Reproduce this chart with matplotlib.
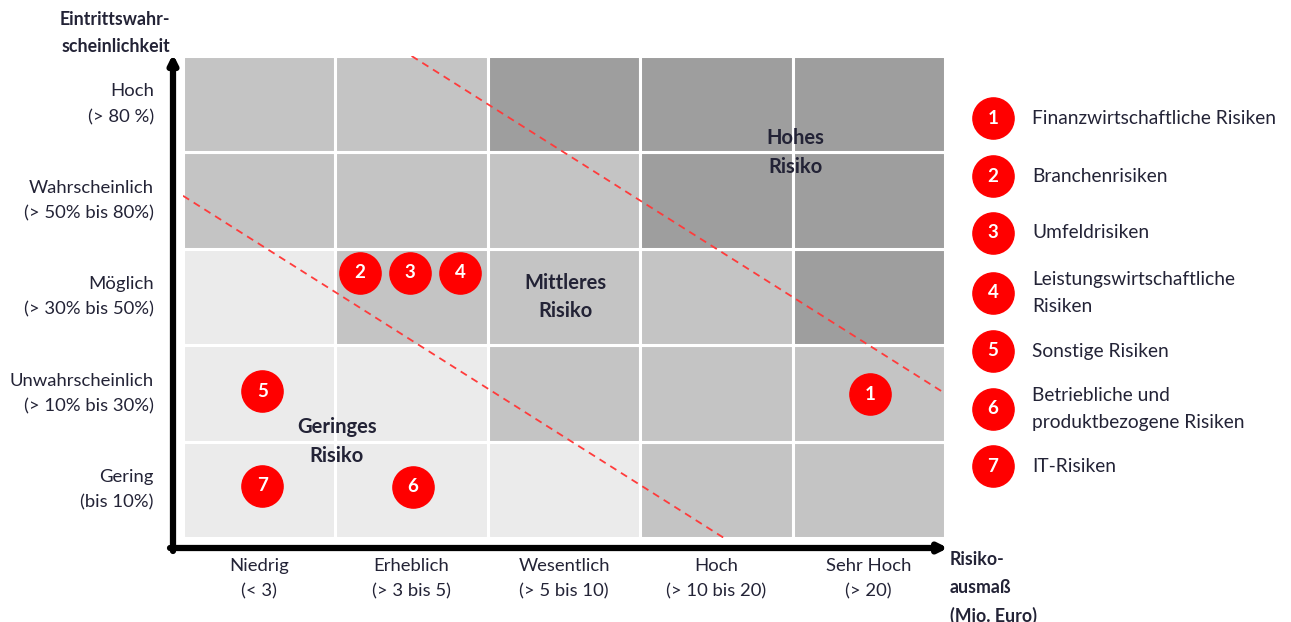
import matplotlib.pyplot as plt
from matplotlib.patches import Rectangle

# Axis categories
impact_labels = ["Niedrig\n(< 3)", "Erheblich\n(> 3 bis 5)", "Wesentlich\n(> 5 bis 10)",
                 "Hoch\n(> 10 bis 20)", "Sehr Hoch\n(> 20)"]
likelihood_labels = ["Gering\n(bis 10%)", "Unwahrscheinlich\n(> 10% bis 30%)",
                     "Möglich\n(> 30% bis 50%)", "Wahrscheinlich\n(> 50% bis 80%)",
                     "Hoch\n(> 80 %)"]

# Risk level per cell: rows from bottom (Gering) to top (Hoch), columns left to right
# 0 = gering, 1 = mittel, 2 = hoch
risk_levels = [
    [0, 0, 0, 1, 1],
    [0, 0, 1, 1, 1],
    [0, 1, 1, 1, 2],
    [1, 1, 1, 2, 2],
    [1, 1, 2, 2, 2],
]
level_colors = ["#ebebeb", "#c4c4c4", "#9e9e9e"]

# Risk positions (impact, likelihood) in grid units
risk_ids = ["1", "2", "3", "4", "5", "6", "7"]
risk_x = [4.51, 1.16, 1.49, 1.82, 0.52, 1.51, 0.52]
risk_y = [1.49, 2.75, 2.75, 2.75, 1.52, 0.53, 0.54]
risk_names = ["Finanzwirtschaftliche Risiken", "Branchenrisiken", "Umfeldrisiken",
              "Leistungswirtschaftliche\nRisiken", "Sonstige Risiken",
              "Betriebliche und\nproduktbezogene Risiken", "IT-Risiken"]

# Zone boundaries: x + y = const
zone_bounds = [3.55, 6.5]
zone_labels = ["Geringes\nRisiko", "Mittleres\nRisiko", "Hohes\nRisiko"]
zone_label_pos = [(1.01, 1.0), (2.51, 2.5), (4.02, 4.0)]

plt.rcParams['font.family'] = ['Lato', 'DejaVu Sans']
txt_color = "#232336"
fs = 13.3
ls = 1.72

W, H = 1291, 622
fig = plt.figure(figsize=(W / 100, H / 100), dpi=100)

# Overlay in pixel coordinates for labels and legend
ov = fig.add_axes([0, 0, 1, 1])
ov.set_xlim(0, W)
ov.set_ylim(H, 0)
ov.axis("off")

left_px, right_px, top_px, bottom_px = 183, 945, 56, 538
ax = fig.add_axes([left_px / W, 1 - bottom_px / H,
                   (right_px - left_px) / W, (bottom_px - top_px) / H])
ax.set_xlim(0, 5)
ax.set_ylim(0, 5)
ax.axis("off")

# Cells
for r in range(5):
    for c in range(5):
        ax.add_patch(Rectangle((c, r), 1, 1, facecolor=level_colors[risk_levels[r][c]],
                               edgecolor="white", linewidth=2.2, zorder=1))

# Zone boundary lines
for s in zone_bounds:
    x0 = max(0, s - 5)
    x1 = min(5, s)
    ax.plot([x0, x1], [s - x0, s - x1], color="#ff3b3b", lw=1.3,
            dashes=(4, 3), zorder=2)

# Zone labels
for lbl, (zx, zy) in zip(zone_labels, zone_label_pos):
    ax.text(zx, zy, lbl, ha="center", va="center", fontsize=14.5, fontweight="bold",
            color=txt_color, linespacing=1.52, zorder=3)

# Risk markers
ax.scatter(risk_x, risk_y, s=880, color="#ff0000", zorder=4, clip_on=False)
for rid, x, y in zip(risk_ids, risk_x, risk_y):
    ax.text(x, y, rid, ha="center", va="center", color="white", fontsize=13.5,
            fontweight="bold", zorder=5)

# Axis arrows
px_x = 1 / 152.4
px_y = 1 / 96.4
ax_x = -10 * px_x
ax_y = -10 * px_y
ax.annotate("", xy=(ax_x, 5.02), xytext=(ax_x, ax_y - 3 * px_y),
            arrowprops=dict(arrowstyle="-|>,head_length=0.5,head_width=0.25",
                            lw=4.5, color="black", shrinkA=0, shrinkB=0),
            annotation_clip=False)
ax.annotate("", xy=(5.02, ax_y), xytext=(ax_x - 3 * px_x, ax_y),
            arrowprops=dict(arrowstyle="-|>,head_length=0.5,head_width=0.25",
                            lw=4.5, color="black", shrinkA=0, shrinkB=0),
            annotation_clip=False)

# Category labels
for i, lbl in enumerate(impact_labels):
    ax.text(i + 0.5, -40.5 * px_y, lbl, ha="center", va="center", fontsize=fs,
            color=txt_color, linespacing=ls, clip_on=False)
for i, lbl in enumerate(likelihood_labels):
    ax.text(-29 * px_x, i + 0.5, lbl, ha="right", va="center", fontsize=fs,
            color=txt_color, linespacing=ls, clip_on=False)

# Axis titles
ov.text(170, 33, "Eintrittswahr-\nscheinlichkeit", ha="right", va="center",
        fontsize=12.8, fontweight="bold", color=txt_color, linespacing=ls)
ov.text(950, 588, "Risiko-\nausmaß\n(Mio. Euro)", ha="left", va="center",
        fontsize=12.8, fontweight="bold", color=txt_color, linespacing=ls)

# Legend
leg_y = [118, 176, 233, 293, 351, 409, 466]
ov.scatter([993] * len(leg_y), leg_y, s=880, color="#ff0000", zorder=4)
for rid, name, py in zip(risk_ids, risk_names, leg_y):
    ov.text(993, py, rid, ha="center", va="center", color="white", fontsize=13.5,
            fontweight="bold", zorder=5)
    ov.text(1032, py, name, ha="left", va="center", fontsize=13.8,
            color=txt_color, linespacing=ls)

fig.savefig("out.png", dpi=100, facecolor="white")
